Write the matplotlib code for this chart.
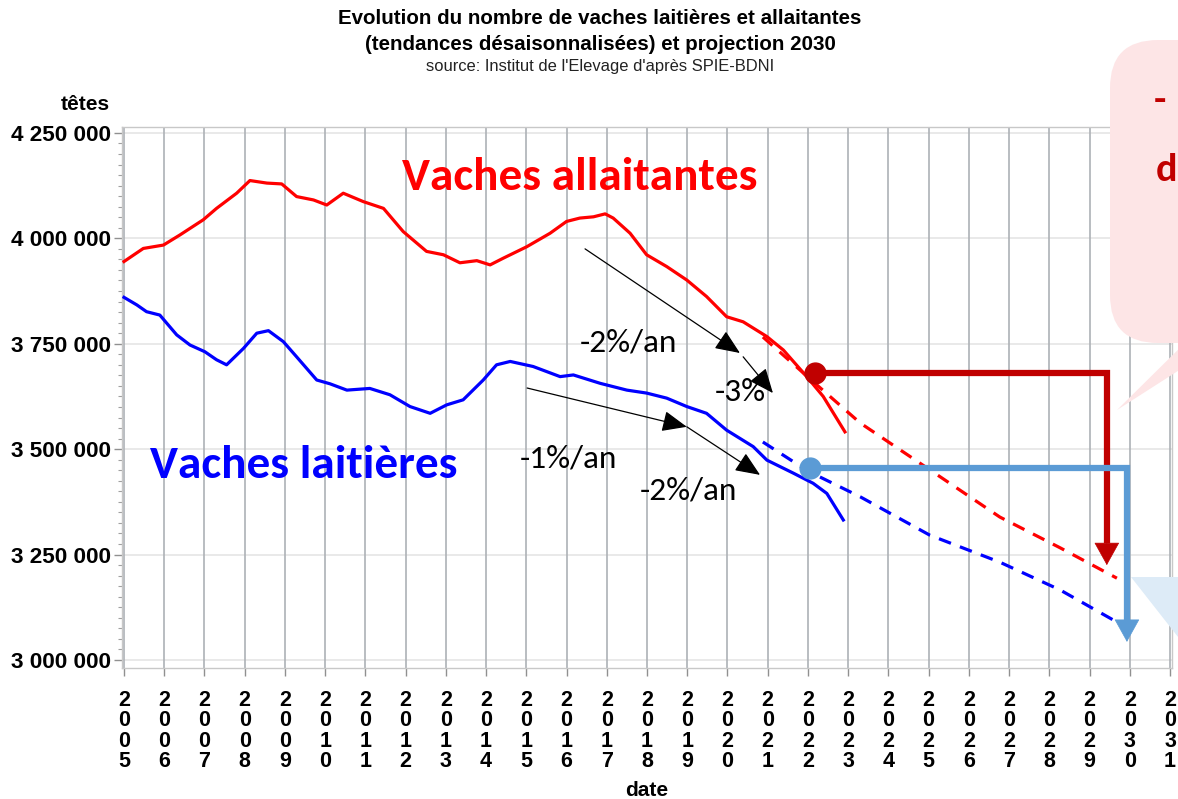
import matplotlib
matplotlib.use("Agg")
import matplotlib.pyplot as plt
from matplotlib import font_manager
from matplotlib.patches import FancyBboxPatch, Polygon
from matplotlib.ticker import MultipleLocator, FuncFormatter

# ---------------- data ----------------
red_years = [2005.0, 2005.48, 2005.98, 2006.39, 2006.97, 2007.30, 2007.80, 2008.13, 2008.55,
             2008.92, 2009.29, 2009.71, 2010.04, 2010.45, 2010.95, 2011.45, 2011.94, 2012.52,
             2012.94, 2013.35, 2013.77, 2014.10, 2014.43, 2015.01, 2015.59, 2016.0, 2016.33,
             2016.67, 2016.96, 2017.16, 2017.58, 2017.99, 2018.49, 2018.99, 2019.48, 2019.98,
             2020.39, 2020.98, 2021.39, 2021.97, 2022.38, 2022.92]
red_vals = [3945, 3976, 3984, 4008, 4044, 4071, 4107, 4137, 4131, 4129, 4099, 4091, 4079, 4107,
            4087, 4071, 4016, 3969, 3961, 3942, 3947, 3937, 3953, 3980, 4012, 4040, 4048, 4051,
            4058, 4048, 4012, 3961, 3933, 3901, 3862, 3814, 3802, 3767, 3735, 3672, 3625, 3541]

blue_years = [2005.0, 2005.32, 2005.56, 2005.89, 2006.31, 2006.64, 2007.01, 2007.30, 2007.55,
              2007.97, 2008.30, 2008.59, 2008.96, 2009.29, 2009.79, 2010.12, 2010.54, 2011.11,
              2011.61, 2012.11, 2012.61, 2013.02, 2013.43, 2013.93, 2014.26, 2014.6, 2015.17,
              2015.84, 2016.17, 2016.84, 2017.50, 2017.99, 2018.49, 2018.99, 2019.48, 2019.98,
              2020.64, 2020.98, 2021.64, 2022.13, 2022.47, 2022.88]
blue_vals = [3860, 3842, 3826, 3818, 3771, 3747, 3731, 3712, 3700, 3739, 3775, 3781, 3755, 3719,
             3664, 3655, 3640, 3644, 3629, 3601, 3585, 3605, 3617, 3664, 3700, 3708, 3696, 3672,
             3676, 3656, 3640, 3633, 3621, 3601, 3585, 3545, 3506, 3474, 3443, 3419, 3395, 3332]

proj_years = [2020.88, 2022.0, 2023.3, 2025.03, 2026.77, 2028.27, 2029.68]
red_proj = [3766, 3671, 3562, 3451, 3339, 3266, 3194]
blue_proj = [3517, 3448, 3387, 3296, 3232, 3166, 3090]

tick_years = list(range(2005, 2032))
y_ticks = [3000000, 3250000, 3500000, 3750000, 4000000, 4250000]

# 2022 reference points and 2030 targets (thousands of heads)
red_point = (2022.18, 3681)
blue_point = (2022.05, 3455)
red_target = (2029.43, 3225)
blue_target = (2029.93, 3043)

# rate annotations: (start, end, label, label position)
rate_arrows = [
    ((2016.46, 3975), (2020.31, 3728), "-2%/an", (2017.53, 3754)),
    ((2020.39, 3719), (2021.13, 3633), "-3%", (2020.31, 3636)),
    ((2015.02, 3645), (2018.99, 3553), "-1%/an", (2016.04, 3479)),
    ((2018.99, 3553), (2020.81, 3439), "-2%/an", (2019.02, 3403)),
]

# ---------------- fonts ----------------
names = {f.name for f in font_manager.fontManager.ttflist}
narrow = "Liberation Sans Narrow" if "Liberation Sans Narrow" in names else "Liberation Sans"
arial = "Liberation Sans"
calibri = "Carlito" if "Carlito" in names else "Lato"

K = 1000.0
RED, BLUE = "#FF0000", "#0000FF"
DRED, LBLUE = "#C00000", "#5B9BD5"

fig = plt.figure(figsize=(11.78, 7.99), dpi=100)
ax = fig.add_axes([122 / 1178, 1 - 668 / 799, 1050 / 1178, 541 / 799])
ax.set_xlim(2004.95, 2031.05)
ax.set_ylim(2981000, 4264000)

# grid
for yv in y_ticks:
    ax.axhline(yv, color="#E3E3E3", lw=1.1, zorder=0)
for yr in tick_years:
    ax.axvline(yr, color="#ADB1B6", lw=1.2, zorder=0)
for s in ax.spines.values():
    s.set_color("#C8C8C8")
    s.set_linewidth(1.0)

ax.set_yticks(y_ticks)
ax.yaxis.set_minor_locator(MultipleLocator(25000))
ax.yaxis.set_major_formatter(FuncFormatter(lambda v, p: f"{int(v):,}".replace(",", " ")))
ax.tick_params(axis="y", which="major", length=6, color="#909090", width=1, pad=2)
ax.tick_params(axis="y", which="minor", length=3, color="#A0A0A0", width=0.8)
for lab in ax.get_yticklabels():
    lab.set_fontfamily(arial)
    lab.set_fontweight("bold")
    lab.set_fontsize(16.2)

ax.set_xticks(tick_years)
ax.set_xticklabels(["\n".join(str(y)) for y in tick_years], fontfamily=narrow,
                   fontweight="bold", fontsize=15.5, linespacing=0.95, va="top")
ax.tick_params(axis="x", length=6, color="#909090", width=1, pad=10)

fig.text(647 / 1178, 1 - 791 / 799, "date", ha="center", va="center",
         fontfamily=arial, fontweight="bold", fontsize=15)
fig.text(85 / 1178, 1 - 105 / 799, "têtes", ha="center", va="center",
         fontfamily=arial, fontweight="bold", fontsize=15)

# titles
fig.text(600 / 1178, 1 - 18 / 799, "Evolution du nombre de vaches laitières et allaitantes",
         ha="center", va="center", fontfamily=arial, fontweight="bold", fontsize=14.8)
fig.text(600 / 1178, 1 - 45 / 799, "(tendances désaisonnalisées) et projection 2030",
         ha="center", va="center", fontfamily=arial, fontweight="bold", fontsize=14.8)
fig.text(600 / 1178, 1 - 67 / 799, "source: Institut de l'Elevage d'après SPIE-BDNI",
         ha="center", va="center", fontfamily=arial, fontsize=11.9, color="#222222")

# series
ax.plot(red_years, [v * K for v in red_vals], color=RED, lw=2.3, zorder=3)
ax.plot(blue_years, [v * K for v in blue_vals], color=BLUE, lw=2.3, zorder=3)
ax.plot(proj_years, [v * K for v in red_proj], color=RED, lw=2.3, ls=(0, (4, 3)), zorder=3)
ax.plot(proj_years, [v * K for v in blue_proj], color=BLUE, lw=2.3, ls=(0, (4, 3)), zorder=3)

# big labels
ax.text(2016.34, 4145600, "Vaches allaitantes", color=RED, ha="center", va="center",
        fontfamily=calibri, fontweight="bold", fontsize=34)
ax.text(2009.47, 3462500, "Vaches laitières", color=BLUE, ha="center", va="center",
        fontfamily=calibri, fontweight="bold", fontsize=34)

# rate arrows
for (x0, y0), (x1, y1), lab, (lx, ly) in rate_arrows:
    ax.annotate("", xy=(x1, y1 * K), xytext=(x0, y0 * K),
                arrowprops=dict(arrowstyle="-|>,head_length=0.9,head_width=0.38",
                                mutation_scale=17, color="black", lw=0.9,
                                shrinkA=0, shrinkB=0), zorder=4)
    ax.text(lx, ly * K, lab, ha="center", va="center", fontfamily=calibri,
            fontsize=24, color="black", zorder=4)

# projection arrows to 2030
for (px, py), (tx, ty), col in [(red_point, red_target, DRED), (blue_point, blue_target, LBLUE)]:
    head_base = ty * K + 22 * 2372
    ax.plot([px, tx, tx], [py * K, py * K, head_base], color=col, lw=4.5,
            solid_joinstyle="miter", solid_capstyle="butt", zorder=5)
    ax.annotate("", xy=(tx, ty * K), xytext=(tx, head_base + 2000),
                arrowprops=dict(arrowstyle="-|>,head_length=0.9,head_width=0.5",
                                mutation_scale=17, fc=col, ec=col, lw=0.5,
                                shrinkA=0, shrinkB=0), zorder=5)
    ax.plot([px], [py * K], "o", color=col, ms=15, zorder=6)

# decorative callouts (figure pixel space)
ov = fig.add_axes([0, 0, 1, 1], zorder=10)
ov.set_xlim(0, 1178)
ov.set_ylim(799, 0)
ov.axis("off")
ov.patch.set_alpha(0)
ov.add_patch(FancyBboxPatch((1110, 40), 200, 303, boxstyle="round,pad=0,rounding_size=48",
                            fc="#FDE5E6", ec="none"))
ov.add_patch(Polygon([(1117, 410), (1195, 333), (1195, 360)], closed=True, fc="#FDE5E6", ec="none"))
ov.add_patch(Polygon([(1131, 577), (1200, 577), (1200, 665)], closed=True, fc="#DDEBF7", ec="none"))
ov.text(1154, 100, "-", color=DRED, fontfamily=calibri, fontweight="bold", fontsize=29,
        ha="left", va="center")
ov.text(1156, 170, "d", color=DRED, fontfamily=calibri, fontweight="bold", fontsize=29,
        ha="left", va="center")

fig.savefig("out.png", dpi=100)
